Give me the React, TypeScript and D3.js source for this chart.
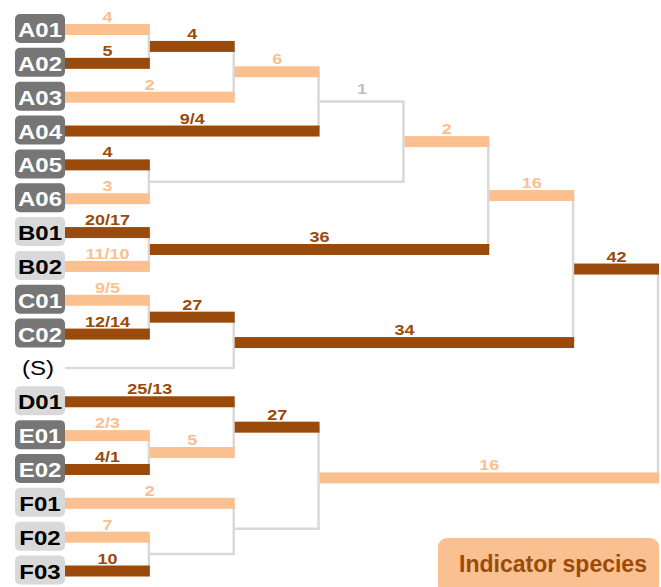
import React from "react";
import * as d3 from "d3";

// Leaves (top to bottom)
const leaves = ["A01","A02","A03","A04","A05","A06","B01","B02","C01","C02","(S)","D01","E01","E02","F01","F02","F03"];
const leafBoxKinds = ["dark","dark","dark","dark","dark","dark","light","light","dark","dark","none","light","dark","dark","light","light","light"];

// Internal clusters and their two children
const clusters = ["N1","N2","N3","N4","N5","N6","N7","N8","N9","N10","N11","N12","N13","N14","N15","root"];
const clusterChildren = [
  ["A01","A02"],["N1","A03"],["N2","A04"],["A05","A06"],["N3","N4"],["B01","B02"],["N5","N6"],
  ["C01","C02"],["N8","(S)"],["N7","N9"],["E01","E02"],["D01","N11"],["F02","F03"],["F01","N13"],
  ["N12","N14"],["N10","N15"]
];

// Branch (edge above each node) label and kind
const branchNodes = ["A01","A02","A03","A04","A05","A06","B01","B02","C01","C02","(S)","D01","E01","E02","F01","F02","F03",
  "N1","N2","N3","N4","N5","N6","N7","N8","N9","N10","N11","N12","N13","N14","N15"];
const branchLabels = ["4","5","2","9/4","4","3","20/17","11/10","9/5","12/14","","25/13","2/3","4/1","2","7","10",
  "4","6","1","","2","36","16","27","34","42","5","27","","","16"];
const branchKinds = ["light","dark","light","dark","dark","light","dark","light","light","dark","gray","dark","light","dark","light","light","dark",
  "dark","light","gray","gray","light","dark","light","dark","dark","dark","light","dark","gray","gray","light"];

const legendLabel = "Indicator species";

const DARK = "#9A4A0A";
const LIGHT = "#FAC090";
const GRAYLINE = "#D9D9D9";
const GRAYTEXT = "#BFBFBF";
const FONT = "'Liberation Sans', Arial, sans-serif";

export default function App() {
  const W = 661, H = 587;
  const yScale = d3.scaleLinear().domain([0, leaves.length - 1]).range([29.5, 571]);
  const xScale = d3.scaleLinear().domain([0, 7]).range([65, 659]);

  const pos: Record<string, { x: number; y: number; level: number }> = {};
  const parentOf: Record<string, string> = {};
  leaves.forEach((l, i) => { pos[l] = { x: xScale(0), y: yScale(i), level: 0 }; });
  clusters.forEach((c, i) => {
    const [a, b] = clusterChildren[i];
    parentOf[a] = c; parentOf[b] = c;
    const level = Math.max(pos[a].level, pos[b].level) + 1;
    pos[c] = { x: xScale(level), y: (pos[a].y + pos[b].y) / 2, level };
  });

  const connectors = clusters.map((c, i) => {
    const [a, b] = clusterChildren[i];
    const x = pos[c].x;
    return <line key={"v" + c} x1={x - 1} x2={x - 1} y1={Math.min(pos[a].y, pos[b].y)} y2={Math.max(pos[a].y, pos[b].y)} stroke={GRAYLINE} strokeWidth={2.5} />;
  });

  const branches = branchNodes.map((n, i) => {
    const kind = branchKinds[i];
    const x0 = pos[n].x, x1 = pos[parentOf[n]].x, y = pos[n].y;
    if (kind === "gray") {
      return <line key={"b" + n} x1={x0} x2={x1} y1={y} y2={y} stroke={GRAYLINE} strokeWidth={2.5} />;
    }
    return <rect key={"b" + n} x={x0} y={y - 5.5} width={x1 - x0} height={11} fill={kind === "dark" ? DARK : LIGHT} />;
  });

  const labels = branchNodes.map((n, i) => {
    const lab = branchLabels[i];
    if (!lab) return null;
    const kind = branchKinds[i];
    const x0 = pos[n].x, x1 = pos[parentOf[n]].x, y = pos[n].y;
    const cx = (x0 + x1) / 2;
    return (
      <text key={"t" + n} transform={`translate(${cx},${y - 7.5}) scale(1.2,1)`} textAnchor="middle"
        fontFamily={FONT} fontWeight="bold" fontSize={15}
        fill={kind === "dark" ? DARK : kind === "light" ? LIGHT : GRAYTEXT}>{lab}</text>
    );
  });

  const leafLabels = leaves.map((l, i) => {
    const kind = leafBoxKinds[i];
    const y = yScale(i);
    if (kind === "none") {
      return (
        <text key={"l" + l} transform={`translate(38,${y + 7.5}) scale(1.2,1)`} textAnchor="middle"
          fontFamily={FONT} fontSize={20} fill="#000">{l}</text>
      );
    }
    return (
      <g key={"l" + l}>
        <rect x={15} y={y - 15.5} width={50} height={29} rx={5} fill={kind === "dark" ? "#767676" : "#D9D9D9"} />
        <text transform={`translate(40,${y + 7.5}) scale(1.2,1)`} textAnchor="middle"
          fontFamily={FONT} fontWeight="bold" fontSize={20} fill={kind === "dark" ? "#FFFFFF" : "#000000"}>{l}</text>
      </g>
    );
  });

  return (
    <svg width={W} height={H} style={{ position: "absolute", left: 0, top: 0, background: "#fff" }}>
      {connectors}
      {branches}
      {labels}
      {leafLabels}
      <rect x={438} y={538} width={221} height={56} rx={9} fill={LIGHT} />
      <text x={553} y={572} textAnchor="middle" fontFamily={FONT} fontWeight="bold" fontSize={23} fill={DARK}>{legendLabel}</text>
    </svg>
  );
}
